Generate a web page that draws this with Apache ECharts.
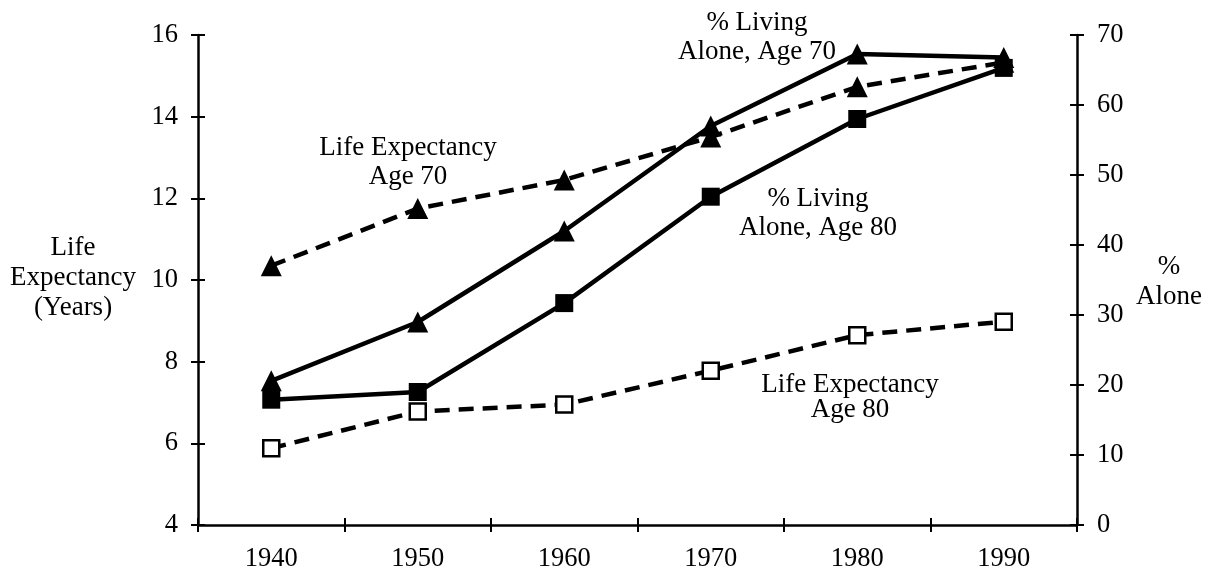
<!DOCTYPE html>
<html><head><meta charset="utf-8">
<script src="https://cdn.jsdelivr.net/npm/echarts@6/dist/echarts.min.js"></script>
<style>html,body{margin:0;padding:0;background:#fff}#c{width:1212px;height:578px}</style>
</head><body><div id="c"></div>
<script>
const years = ['1940','1950','1960','1970','1980','1990'];
const lifeExp70 = [10.35, 11.75, 12.45, 13.5, 14.73, 15.33];
const lifeExp80 = [5.88, 6.78, 6.95, 7.78, 8.65, 8.98];
const alone70 = [20.6, 29.0, 42.0, 57.0, 67.3, 66.8];
const alone80 = [17.9, 19.0, 31.7, 46.9, 58.0, 65.3];
const leftTicks = [4, 16, 2];
const rightTicks = [0, 70, 10];

const FONT = 'Liberation Serif';
const FS = 26.5;
const AFS = 27;
const TL = 7;
const chart = echarts.init(document.getElementById('c'));
const axisLine = {show: true, onZero: false, lineStyle: {color: '#000', width: 2.5}};
const tickStyle = {color: '#000', width: 2};
const baseY = (pos, t, showLabel, gi) => ({
  type: 'value', gridIndex: gi, position: pos, min: t[0], max: t[1], interval: t[2],
  axisLine: axisLine, splitLine: {show: false},
  axisTick: {show: true, inside: false, length: TL, lineStyle: tickStyle},
  axisLabel: {show: showLabel, color: '#000', fontFamily: FONT, fontSize: FS, margin: 20}
});
const baseX = (showLabel, gi) => ({
  type: 'category', gridIndex: gi, position: 'bottom', data: years, boundaryGap: true,
  axisLine: axisLine,
  axisTick: {show: true, inside: false, length: TL, lineStyle: tickStyle},
  axisLabel: {show: showLabel, color: '#000', fontFamily: FONT, fontSize: FS, margin: 21}
});
const line = (name, data, yi, dashed, symbol, size, open) => ({
  name: name, type: 'line', data: data, yAxisIndex: yi, xAxisIndex: 0,
  symbol: symbol, symbolSize: size, showAllSymbol: true,
  lineStyle: {color: '#000', width: 4.5, type: dashed ? [15, 9] : 'solid'},
  itemStyle: open ? {color: '#fff', borderColor: '#000', borderWidth: 2.5} : {color: '#000', borderWidth: 0},
  z: open ? 3 : 2, animation: false
});
const G = {left: 198, right: 135, top: 35, bottom: 53};
const tf = AFS + 'px "' + FONT + '"';
// helper grids whose outside ticks point into the main plot, so ticks cross the axis lines
const gridX = {left: G.left, right: G.right, top: G.top, bottom: G.bottom + TL};
const gridY = {left: G.left + TL, right: G.right + TL, top: G.top, bottom: G.bottom};
const noLine = {axisLine: {show: false, onZero: false}};
const innerX = Object.assign(baseX(false, 1), noLine);
const innerXg2 = Object.assign(baseX(false, 2), noLine, {axisTick: {show: false}});
const innerYg1 = Object.assign(baseY('left', leftTicks, false, 1), noLine, {axisTick: {show: false}});
const innerYL = Object.assign(baseY('left', leftTicks, false, 2), noLine);
const innerYR = Object.assign(baseY('right', rightTicks, false, 2), noLine);
chart.setOption({
  animation: false,
  backgroundColor: '#fff',
  grid: [Object.assign({}, G), gridX, gridY],
  xAxis: [baseX(true, 0), innerX, innerXg2],
  yAxis: [baseY('left', leftTicks, true, 0), baseY('right', rightTicks, true, 0), innerYg1, innerYL, innerYR],
  series: [
    line('Life Expectancy Age 70', lifeExp70, 0, true, 'triangle', 21, false),
    line('Life Expectancy Age 80', lifeExp80, 0, true, 'rect', 16, true),
    line('% Living Alone, Age 70', alone70, 1, false, 'triangle', 21, false),
    line('% Living Alone, Age 80', alone80, 1, false, 'rect', 18, false)
  ],
  graphic: [
    {type: 'text', x: 73, y: 278, style: {text: 'Life\nExpectancy\n(Years)', font: tf, fill: '#000', align: 'center', verticalAlign: 'middle', lineHeight: 30}},
    {type: 'text', x: 1169, y: 282, style: {text: '%\nAlone', font: tf, fill: '#000', align: 'center', verticalAlign: 'middle', lineHeight: 30}},
    {type: 'text', x: 408, y: 162, style: {text: 'Life Expectancy\nAge 70', font: tf, fill: '#000', align: 'center', verticalAlign: 'middle', lineHeight: 29}},
    {type: 'text', x: 757, y: 37, style: {text: '% Living\nAlone, Age 70', font: tf, fill: '#000', align: 'center', verticalAlign: 'middle', lineHeight: 29}},
    {type: 'text', x: 818, y: 213, style: {text: '% Living\nAlone, Age 80', font: tf, fill: '#000', align: 'center', verticalAlign: 'middle', lineHeight: 29}},
    {type: 'text', x: 850, y: 397, style: {text: 'Life Expectancy\nAge 80', font: tf, fill: '#000', align: 'center', verticalAlign: 'middle', lineHeight: 25}}
  ]
});
</script></body></html>
